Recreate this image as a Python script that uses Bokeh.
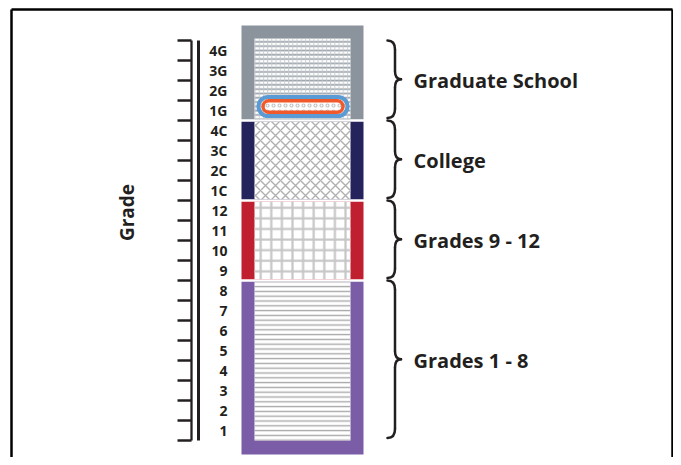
import numpy as np
from bokeh.plotting import figure
from bokeh.models import Range1d
from bokeh.core.properties import value
from bokeh.embed import file_html
from bokeh.resources import INLINE

# ---------------- data ----------------
grade_labels = ["1", "2", "3", "4", "5", "6", "7", "8",
                "9", "10", "11", "12",
                "1C", "2C", "3C", "4C",
                "1G", "2G", "3G", "4G"]
band_names = ["Grades 1 - 8", "Grades 9 - 12", "College", "Graduate School"]
band_start = [0, 8, 12, 16]
band_end = [8, 12, 16, 20]
band_colors = ["#7b5ca6", "#c01f2f", "#25235b", "#8b949c"]
highlight_grade = "1G"
axis_title = "Grade"

# ---------------- styles ----------------
FONT = value("Open Sans")
TXT = "#231f20"
band_hatch = [
    [dict(hatch_pattern="-", hatch_color="#a9a9a9", hatch_scale=4.8, hatch_weight=1.4)],
    [dict(hatch_pattern="+", hatch_color="#c6c6c6", hatch_scale=10.6, hatch_weight=2.2)],
    [dict(hatch_pattern="x", hatch_color="#b0b0b0", hatch_scale=10.0, hatch_weight=1.4)],
    [dict(hatch_pattern="-", hatch_color="#9aa2a9", hatch_scale=4.3, hatch_weight=1.7),
     dict(hatch_pattern="|", hatch_color="#c3c8cd", hatch_scale=4.2, hatch_weight=0.9)],
]

W, H = 673, 457
p = figure(width=W, height=H, output_backend="svg", toolbar_location=None,
           x_range=Range1d(1, 1 + W), y_range=Range1d(22 - H / 20, 22),
           min_border=0, background_fill_color="white", border_fill_color="white")
p.axis.visible = False
p.grid.visible = False
p.outline_line_color = None

# frame border (left, top, right)
ybot = 22 - H / 20
p.segment(x0=[12, 12, 673], y0=[ybot, 21.55, 21.55], x1=[12, 673, 673], y1=[21.55, 21.55, ybot],
          line_color="black", line_width=2.5)

n = len(grade_labels)
gap = 0.06
# bands
for i in range(len(band_names)):
    bot = band_start[i] + gap if i > 0 else -0.7
    top = band_end[i] - gap if i < len(band_names) - 1 else 20.75
    p.quad(left=242, right=364, bottom=bot, top=top, fill_color=band_colors[i], line_color=None)
    ibot = band_start[i] + gap if i > 0 else band_start[i]
    itop = band_end[i] - gap if i < len(band_names) - 1 else band_end[i] + 0.1
    p.quad(left=255, right=351, bottom=ibot, top=itop, fill_color="white", line_color=None)
    for h in band_hatch[i]:
        p.quad(left=255, right=351, bottom=ibot, top=itop, fill_alpha=0, line_color=None, **h)

# highlight pill
hi = grade_labels.index(highlight_grade)
hy = hi + 0.7
p.rect(x=303.5, y=hy, width=89, height=0.95, border_radius=10,
       fill_color="white", line_color="#5b9bd5", line_width=4,
       hatch_pattern="o", hatch_color="#c4c4c4", hatch_scale=6, hatch_weight=1.2)
p.rect(x=303.5, y=hy, width=80, height=0.58, border_radius=6,
       fill_alpha=0, line_color="#f1592a", line_width=3.5)

# ruler
ticks = np.arange(n + 1)
p.segment(x0=178, x1=192, y0=ticks, y1=ticks, line_color=TXT, line_width=2.3)
p.segment(x0=[192, 199], x1=[192, 199], y0=[0, 0], y1=[n, n], line_color=TXT,
          line_width=[2.3, 3])

# grade labels
p.text(x=228, y=np.arange(n) + 0.5, text=grade_labels, text_font=FONT, text_font_style="bold",
       text_font_size="14px", text_align="right", text_baseline="middle", text_color=TXT)

# axis title
p.text(x=127, y=11.4, text=[axis_title], angle=np.pi / 2, text_font=FONT, text_font_style="bold",
       text_font_size="19px", text_align="center", text_baseline="middle", text_color=TXT)

# braces + labels
x0, xv, xt = 388, 395.5, 401.5
r, r2 = 0.45, 0.4
for i in range(len(band_names)):
    top = band_end[i]
    bot = band_start[i] + 0.12
    mid = (top + bot) / 2
    p.quadratic(x0=[x0, xv, xt, xv], y0=[top, mid + r2, mid, bot + r],
                x1=[xv, xt, xv, x0], y1=[top - r, mid, mid - r2, bot],
                cx=[xv, xv, xv, xv], cy=[top, mid, mid, bot],
                line_color=TXT, line_width=2.5, line_cap="round")
    p.segment(x0=[xv, xv], x1=[xv, xv], y0=[top - r, mid - r2], y1=[mid + r2, bot + r],
              line_color=TXT, line_width=2.5)
    p.text(x=414, y=(band_start[i] + band_end[i]) / 2, text=[band_names[i]], text_font=FONT,
           text_font_style="bold", text_font_size="20px", text_align="left",
           text_baseline="middle", text_color=TXT)

open("out.html", "w").write(file_html(p, INLINE))
